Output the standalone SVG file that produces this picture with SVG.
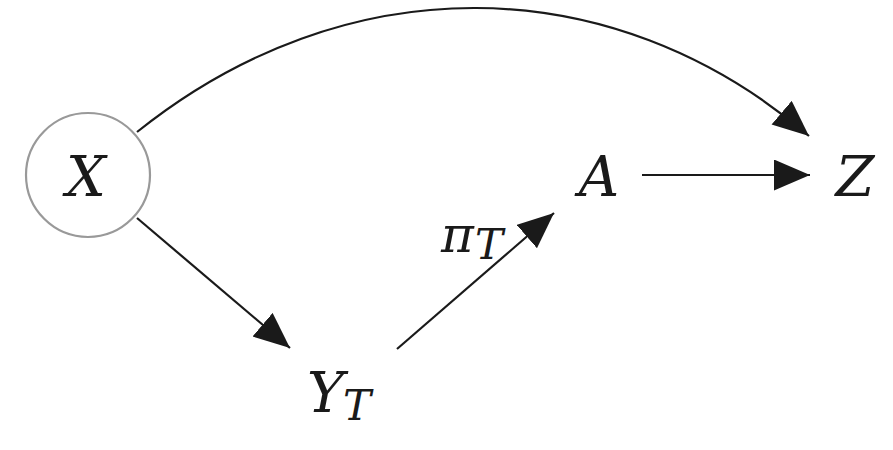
<svg xmlns="http://www.w3.org/2000/svg" width="893" height="450" viewBox="0 0 893 450">
<style>
.lbl{font-family:"DejaVu Serif","Liberation Serif",serif;font-style:italic;font-size:56px;fill:#1a1a1a}
.sub{font-size:42px}
.edge{fill:none;stroke:#1a1a1a;stroke-width:2.2}
</style>
<defs>
<marker id="ah" markerUnits="userSpaceOnUse" markerWidth="40" markerHeight="34" refX="36" refY="15.5" orient="auto">
<path d="M0,0 L36,15.5 L0,31 z" fill="#1a1a1a"/>
</marker>
</defs>
<g id="connectors">
<path class="edge" d="M137,132 C344,-34 610,-34 809,136" marker-end="url(#ah)"/>
<line class="edge" x1="137" y1="218" x2="290" y2="348" marker-end="url(#ah)"/>
<line class="edge" x1="397" y1="349" x2="554" y2="213" marker-end="url(#ah)"/>
<line class="edge" x1="642" y1="175" x2="810" y2="175" marker-end="url(#ah)"/>
<text class="lbl" x="441" y="252" style="font-size:50px">π<tspan class="sub" x="475" y="259">T</tspan></text>
</g>
<g id="X">
<circle cx="88" cy="175" r="62" fill="none" stroke="#999" stroke-width="2.2"/>
<text class="lbl" x="86" y="196" text-anchor="middle">X</text>
</g>
<g id="YT">
<text class="lbl" x="307" y="412">Y<tspan class="sub" x="343" y="420">T</tspan></text>
</g>
<g id="A">
<text class="lbl" x="599" y="196" text-anchor="middle">A</text>
</g>
<g id="Z">
<text class="lbl" x="855" y="196" text-anchor="middle">Z</text>
</g>
</svg>
